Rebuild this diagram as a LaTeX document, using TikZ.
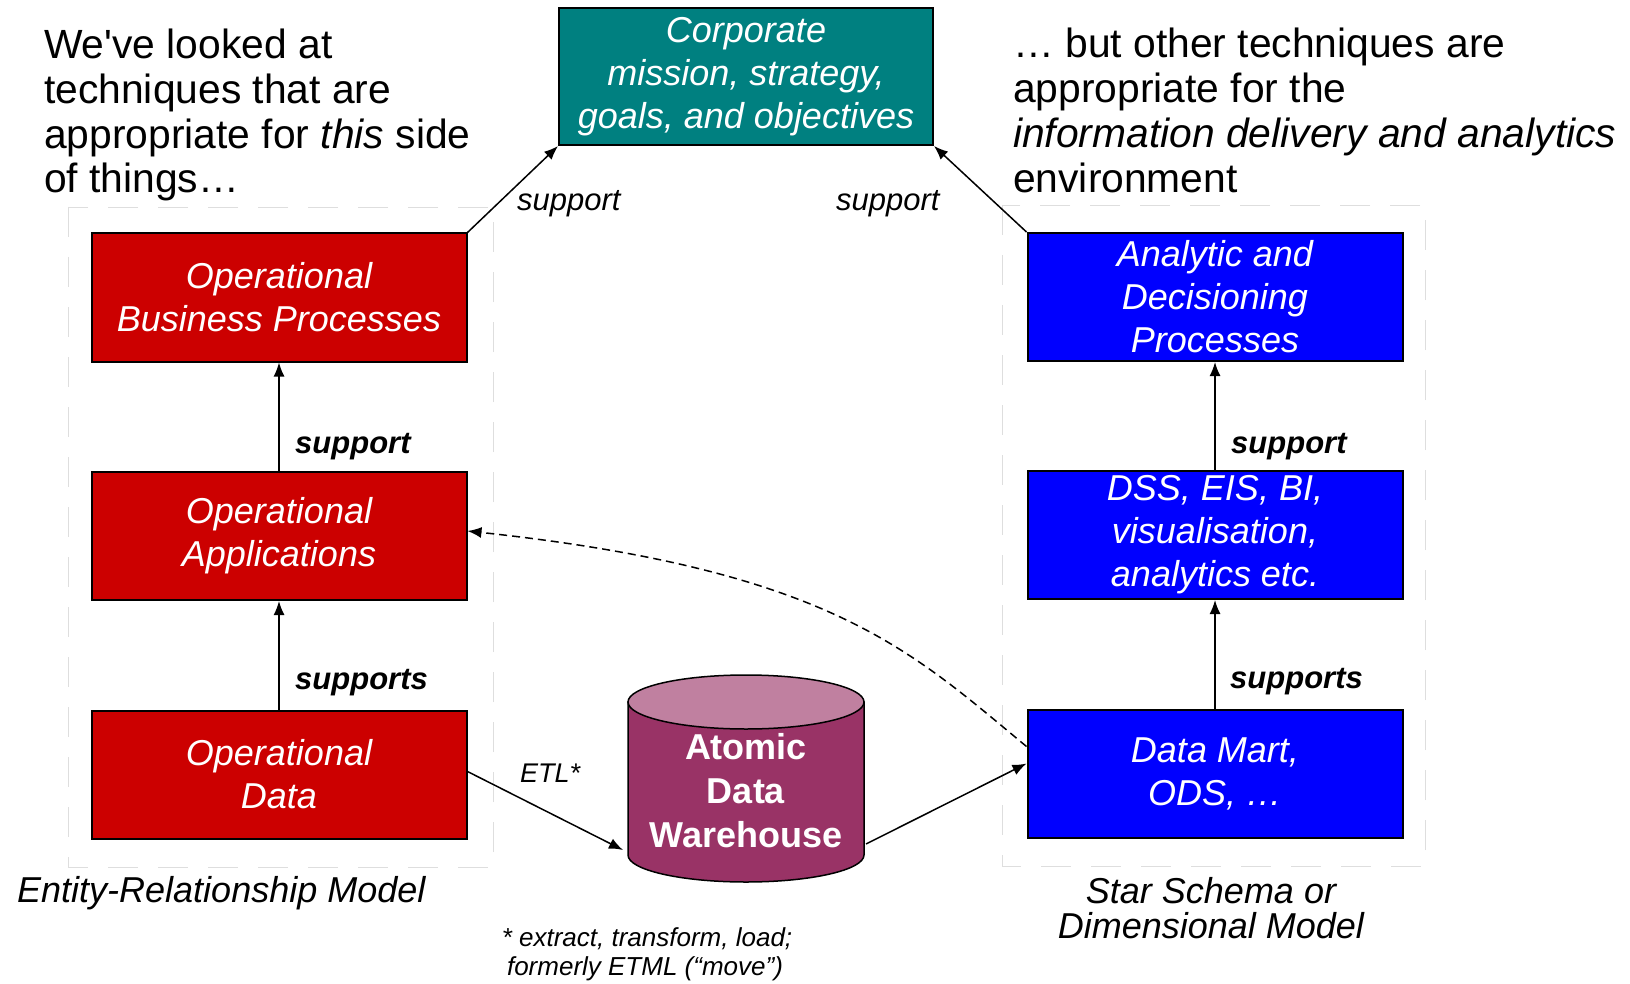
\documentclass[tikz,border=0pt]{standalone}
\usepackage{fontspec}
\newfontfamily\arialf{Liberation Sans}
\usetikzlibrary{arrows.meta}
\definecolor{opred}{RGB}{204,0,0}
\definecolor{anblue}{RGB}{0,0,255}
\definecolor{corpteal}{RGB}{0,128,128}
\definecolor{cylbody}{RGB}{153,51,102}
\definecolor{cyltop}{RGB}{192,128,160}
\definecolor{framegray}{RGB}{222,222,222}
\begin{document}
\begin{tikzpicture}[x=1pt,y=1pt,
 box/.style={draw=black, line width=2pt, minimum width=375pt, minimum height=128pt, inner sep=0pt, align=center, text=white, font=\arialf\itshape\fontsize{36}{43}\selectfont},
 redbox/.style={box, fill=opred},
 bluebox/.style={box, fill=anblue},
 conn/.style={line width=1.5pt, -{Latex[length=14pt,width=11pt]}},
 lbl/.style={anchor=base west, inner sep=0pt, font=\arialf\itshape\fontsize{31}{36}\selectfont},
 blbl/.style={lbl, font=\arialf\bfseries\itshape\fontsize{31}{36}\selectfont},
 hdr/.style={anchor=base west, inner sep=0pt, font=\arialf\fontsize{40.8}{45}\selectfont},
 model/.style={inner sep=0pt, font=\arialf\itshape\fontsize{36}{36}\selectfont},
 foot/.style={anchor=base, inner sep=0pt, font=\arialf\itshape\fontsize{26}{29}\selectfont},
 frame/.style={draw=framegray, line width=0.8pt, dash pattern=on 30pt off 20pt},
]
\useasboundingbox (0,0) rectangle (1630,-984);

% dotted frames
\draw[frame] (68,-207) rectangle (493,-867);
\draw[frame] (1002,-205) rectangle (1425,-866);

% header texts
\node[hdr] (l1) at (44,-59) {We've looked at};
\node[hdr] (l2) at (44,-104) {techniques that are};
\node[hdr] (l3) at (44,-149) {appropriate for \textit{this} side};
\node[hdr] (l4) at (44,-193) {of things…};
\node[hdr] (r1) at (1013,-58) {… but other techniques are};
\node[hdr] (r2) at (1013,-103) {appropriate for the};
\node[hdr] (r3) at (1013,-148) {\textit{information delivery and analytics}};
\node[hdr] (r4) at (1013,-193) {environment};

% boxes
\node[box, fill=corpteal, minimum width=374pt, minimum height=137pt] (corp) at (746,-76.5) {Corporate\\mission, strategy,\\goals, and objectives};
\node[redbox] (obp) at (279,-297.5) {Operational\\Business Processes};
\node[redbox] (oa) at (279,-536) {Operational\\Applications};
\node[redbox] (od) at (279,-774.5) {Operational\\Data};
\node[bluebox] (adp) at (1215,-297) {Analytic and\\Decisioning\\Processes};
\node[bluebox] (dss) at (1215,-535) {DSS, EIS, BI,\\visualisation,\\analytics etc.};
\node[bluebox] (dm) at (1215,-773.5) {Data Mart,\\ODS, …};

% cylinder
\filldraw[fill=cylbody, draw=black, line width=1.5pt] (628,-702) -- (628,-855) arc[start angle=180, end angle=360, x radius=118pt, y radius=27pt] -- (864,-702) -- cycle;
\filldraw[fill=cyltop, draw=black, line width=1.5pt] (746,-702) ellipse[x radius=118pt, y radius=27pt];
\node[inner sep=0pt, align=center, text=white, font=\arialf\bfseries\fontsize{36}{44}\selectfont] (adw) at (746,-791) {Atomic\\Data\\Warehouse};
\coordinate (adwL) at (623,-850);
\coordinate (adwR) at (866,-844);

% connectors
\draw[conn] (obp.north east) -- (corp.south west);
\draw[conn] (adp.north west) -- (corp.south east);
\draw[conn] (oa.north) -- (obp.south);
\draw[conn] (od.north) -- (oa.south);
\draw[conn] (dss.north) -- (adp.south);
\draw[conn] (dm.north) -- (dss.south);
\draw[conn] ([yshift=3pt]od.east) -- (adwL);
\draw[conn] (adwR) -- ([yshift=10pt]dm.west);
\draw[conn, dash pattern=on 8pt off 5pt] ([yshift=27pt]dm.west) .. controls (910,-650) and (830,-570) .. ([yshift=5pt]oa.east);

% labels
\node[lbl] (s1) at (517,-211) {support};
\node[lbl] (s2) at (836,-211) {support};
\node[blbl] (s3) at (295,-453) {support};
\node[blbl] (s4) at (295,-689) {supports};
\node[blbl] (s5) at (1231,-453) {support};
\node[blbl] (s6) at (1230,-688) {supports};
\node[lbl, font=\arialf\itshape\fontsize{27}{30}\selectfont] (etl) at (520,-782) {ETL*};

% model names
\node[model, anchor=base west] (erm) at (17,-902) {Entity-Relationship Model};
\node[model, anchor=base] (ss1) at (1211,-903) {Star Schema or};
\node[model, anchor=base] (ss2) at (1211,-938) {Dimensional Model};

% footnote
\node[foot] (f1) at (647,-946) {* extract, transform, load;};
\node[foot] (f2) at (645,-975) {formerly ETML (“move”)};
\end{tikzpicture}
\end{document}
